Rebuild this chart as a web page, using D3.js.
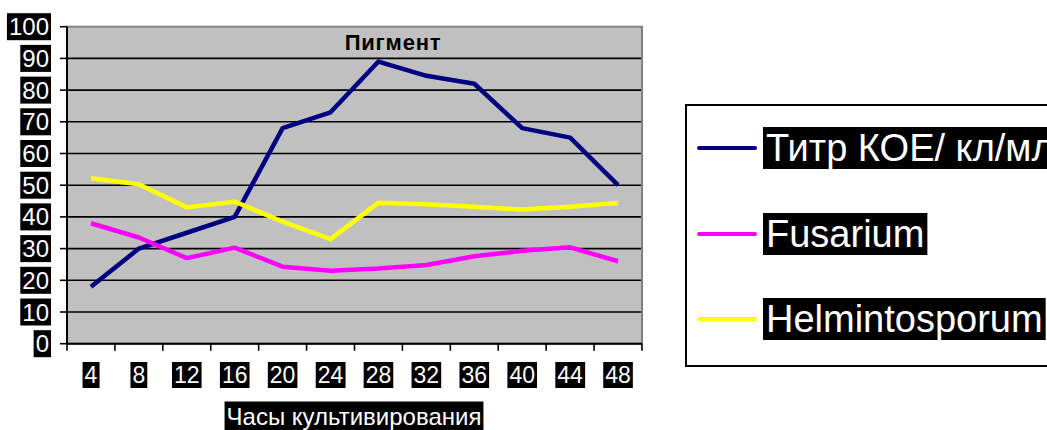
<!DOCTYPE html>
<html>
<head>
<meta charset="utf-8">
<script src="https://cdn.jsdelivr.net/npm/d3@7"></script>
<style>
  body { margin: 0; background: #fff; }
  text { font-family: "Liberation Sans", Arial, sans-serif; }
</style>
</head>
<body>
<svg id="chart"></svg>
<script>
// Data
const hours = [4, 8, 12, 16, 20, 24, 28, 32, 36, 40, 44, 48];
const titr = [18, 30, 35, 40, 68, 73, 89, 84.5, 82, 68, 65, 50];
const fusarium = [38, 33.5, 27, 30.3, 24.3, 23, 23.7, 24.8, 27.6, 29.3, 30.4, 26];
const helmintosporum = [52.2, 50.3, 43, 44.8, 38.5, 33, 44.5, 44, 43.2, 42.3, 43.2, 44.4];
const yTicks = [0, 10, 20, 30, 40, 50, 60, 70, 80, 90, 100];
const seriesNames = ["Титр КОЕ/ кл/мл", "Fusarium", "Helmintosporum"];
const seriesColors = ["#000080", "#ff00ff", "#ffff00"];

(() => {
    const width = 1047;
    const height = 430;

    const svg = d3.select("#chart")
        .attr("width", width)
        .attr("height", height);

    // Plot area
    const left = 67, right = 642, top = 26.7, bottom = 343.7;

    const x = d3.scaleBand()
        .domain(hours)
        .range([left, right]);

    const y = d3.scaleLinear()
        .domain([0, 100])
        .range([bottom, top]);

    // helper: white text on black box
    function boxedText(g, px, py, str, size, anchor, padX, padY) {
        const t = g.append("text")
            .attr("x", px)
            .attr("y", py)
            .attr("text-anchor", anchor)
            .attr("dominant-baseline", "central")
            .attr("font-size", size)
            .attr("fill", "#fff")
            .text(str);
        const b = t.node().getBBox();
        g.insert("rect", () => t.node())
            .attr("x", b.x - padX)
            .attr("y", b.y - padY)
            .attr("width", b.width + padX * 2)
            .attr("height", b.height + padY * 2)
            .attr("fill", "#000");
        return t;
    }

    // Background
    svg.append("rect")
        .attr("x", left)
        .attr("y", top)
        .attr("width", right - left)
        .attr("height", bottom - top)
        .attr("fill", "#c0c0c0")
        .attr("stroke", "#808080")
        .attr("stroke-width", 2);

    // Gridlines
    svg.append("g")
        .selectAll("line")
        .data(yTicks.filter(d => d > 0 && d < 100))
        .join("line")
        .attr("x1", left)
        .attr("x2", right - 1)
        .attr("y1", d => y(d))
        .attr("y2", d => y(d))
        .attr("stroke", "#000")
        .attr("stroke-width", 1.6);

    // Axes lines
    svg.append("line")
        .attr("x1", left).attr("x2", left)
        .attr("y1", top).attr("y2", bottom)
        .attr("stroke", "#000").attr("stroke-width", 2);
    svg.append("line")
        .attr("x1", left).attr("x2", right)
        .attr("y1", bottom).attr("y2", bottom)
        .attr("stroke", "#000").attr("stroke-width", 2);

    // Y ticks + labels
    const yAxis = svg.append("g");
    yAxis.selectAll("line")
        .data(yTicks)
        .join("line")
        .attr("x1", left - 7)
        .attr("x2", left)
        .attr("y1", d => y(d))
        .attr("y2", d => y(d))
        .attr("stroke", "#000")
        .attr("stroke-width", 1.6);
    yTicks.forEach(d => boxedText(yAxis, 49, y(d), d, 24, "end", 2, 0));

    // X ticks + labels
    const xAxis = svg.append("g");
    const xEdges = hours.map(h => x(h)).concat([right]);
    xAxis.selectAll("line")
        .data(xEdges)
        .join("line")
        .attr("x1", d => d)
        .attr("x2", d => d)
        .attr("y1", bottom)
        .attr("y2", bottom + 7)
        .attr("stroke", "#000")
        .attr("stroke-width", 1.6);
    hours.forEach(h => boxedText(xAxis, x(h) + x.bandwidth() / 2, 375, h, 23, "middle", 2, 0));

    // Axis title
    boxedText(svg.append("g"), 354, 416, "Часы культивирования", 24, "middle", 2, 1);

    // Chart title
    svg.append("text")
        .attr("x", 393)
        .attr("y", 42)
        .attr("text-anchor", "middle")
        .attr("dominant-baseline", "central")
        .attr("font-size", 22)
        .attr("font-weight", "bold")
        .attr("letter-spacing", 0.8)
        .attr("fill", "#000")
        .text("Пигмент");

    // Lines
    const line = d3.line()
        .x((d, i) => x(hours[i]) + x.bandwidth() / 2)
        .y(d => y(d));

    [titr, fusarium, helmintosporum].forEach((s, i) => {
        svg.append("path")
            .datum(s)
            .attr("d", line)
            .attr("fill", "none")
            .attr("stroke", seriesColors[i])
            .attr("stroke-width", 4.5)
            .attr("stroke-linejoin", "round");
    });

    // Legend
    const legend = svg.append("g");
    legend.append("rect")
        .attr("x", 686)
        .attr("y", 105)
        .attr("width", 420)
        .attr("height", 261)
        .attr("fill", "#fff")
        .attr("stroke", "#000")
        .attr("stroke-width", 2);

    const legendY = [148, 234, 319];
    seriesNames.forEach((name, i) => {
        legend.append("line")
            .attr("x1", 699)
            .attr("x2", 755)
            .attr("y1", legendY[i])
            .attr("y2", legendY[i])
            .attr("stroke", seriesColors[i])
            .attr("stroke-width", 4)
            .attr("stroke-linecap", "round");
        boxedText(legend, 766, legendY[i], name, 38, "start", 3, 0);
    });
})();
</script>
</body>
</html>
